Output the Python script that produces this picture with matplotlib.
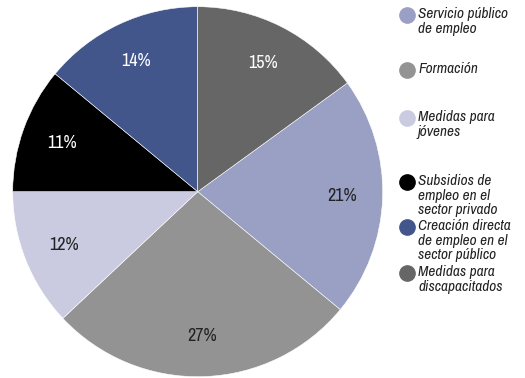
import matplotlib
matplotlib.use("Agg")
import matplotlib.pyplot as plt

plt.rcParams['font.family'] = ['Archivo Narrow', 'DejaVu Sans']

# reparto del gasto en politicas activas de empleo
categorias = ['Servicio público\nde empleo',
              'Formación',
              'Medidas para\njóvenes',
              'Subsidios de\nempleo en el\nsector privado',
              'Creación directa\nde empleo en el\nsector público',
              'Medidas para\ndiscapacitados']
valores = [21, 27, 12, 11, 14, 15]
colores = ['#9aa0c4', '#939393', '#cacbe0', '#000000', '#42568c', '#666666']
color_pct = ['#222222', '#222222', '#222222', 'white', 'white', 'white']

W, H = 525, 378
fig = plt.figure(figsize=(W / 100, H / 100), dpi=100)

# pie centrado en (198, 192) px con radio de 185 px
cx, cy, r = 197.7, 191.7, 185
ax = fig.add_axes([(cx - r) / W, (H - cy - r) / H, 2 * r / W, 2 * r / H])
inicio = 90 - valores[-1] / sum(valores) * 360
wedges, textos, pcts = ax.pie(valores, colors=colores, startangle=inicio,
                              counterclock=False, autopct='%d%%',
                              pctdistance=0.78, radius=1,
                              wedgeprops=dict(edgecolor='white', linewidth=0.4))
for t, c in zip(pcts, color_pct):
    t.set_color(c)
    t.set_fontsize(13)
ax.set_xlim(-1, 1)
ax.set_ylim(-1, 1)
ax.set_aspect('equal')
ax.axis('off')

# leyenda a mano, con los huecos desiguales entre entradas
y_marcas = [15, 70, 118, 182, 227, 273]
for nombre, col, ym in zip(categorias, colores, y_marcas):
    fig.lines.append(plt.Line2D([406.7 / W], [1 - ym / H], marker='o', markersize=11,
                                color=col, markeredgecolor=col, linestyle='none',
                                transform=fig.transFigure))
    fig.text(418 / W, 1 - (ym - 8) / H, nombre, ha='left', va='top',
             fontsize=11, style='italic', color='#222222', linespacing=1.05)

fig.savefig('out.png', dpi=100)
